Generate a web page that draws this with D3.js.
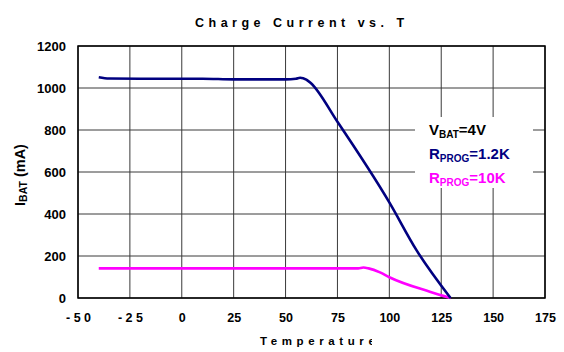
<!DOCTYPE html>
<html>
<head>
<meta charset="utf-8">
<script src="https://cdn.jsdelivr.net/npm/d3@7"></script>
<style>
  body { margin: 0; background: #fff; }
  text { font-family: "Liberation Sans", Arial, sans-serif; font-weight: bold; }
</style>
</head>
<body>
<svg id="chart" width="564" height="352"></svg>
<script>
// Axis ticks
const xTicks = [-50, -25, 0, 25, 50, 75, 100, 125, 150, 175];
const xTickLabels = ["- 5 0", "- 2 5", "0", "25", "50", "75", "100", "125", "150", "175"];
const yTicks = [0, 200, 400, 600, 800, 1000, 1200];

// R_PROG = 1.2K
const tempHigh = [-40, -35, -20, 0, 10, 25, 40, 50, 55, 57, 60, 62, 75, 100, 113, 129.5];
const iHigh    = [1051, 1045, 1044, 1044, 1044, 1041, 1041, 1041, 1044, 1049, 1040, 1025, 839, 455, 229, 0];

// R_PROG = 10K
const tempLow = [-40, 0, 50, 85, 87.5, 90, 95.5, 100, 119.5, 129.5];
const iLow    = [141, 141, 141, 141, 145, 141, 122, 99, 30, 0];

const svg = d3.select("#chart");
const plot = { left: 78, right: 545, top: 46, bottom: 298 };

const x = d3.scaleLinear().domain([-50, 175]).range([plot.left, plot.right]);
const y = d3.scaleLinear().domain([0, 1200]).range([plot.bottom, plot.top]);

// Grid
const grid = svg.append("g");
grid.selectAll("line.v").data(xTicks).join("line")
  .attr("x1", d => x(d)).attr("x2", d => x(d))
  .attr("y1", plot.top).attr("y2", plot.bottom)
  .attr("stroke", "#3a3a3a").attr("stroke-width", 1);
grid.selectAll("line.h").data(yTicks).join("line")
  .attr("x1", plot.left).attr("x2", plot.right)
  .attr("y1", d => y(d)).attr("y2", d => y(d))
  .attr("stroke", "#3a3a3a").attr("stroke-width", 1);

// Legend backing (grid stops behind the labels)
svg.append("rect").attr("x", 415).attr("y", 117).attr("width", 118).attr("height", 71).attr("fill", "#fff");

// Frame
svg.append("rect")
  .attr("x", plot.left).attr("y", plot.top)
  .attr("width", plot.right - plot.left).attr("height", plot.bottom - plot.top)
  .attr("fill", "none").attr("stroke", "#000").attr("stroke-width", 1.5);

// Axes (labels only)
const xAxis = d3.axisBottom(x).tickValues(xTicks)
  .tickFormat((d, i) => xTickLabels[i]).tickSize(0).tickPadding(15);
svg.append("g").attr("transform", `translate(0,${plot.bottom})`).call(xAxis)
  .call(g => g.select(".domain").remove())
  .selectAll("text").attr("font-size", 12.5).attr("font-family", null).attr("fill", "#000");

const yAxis = d3.axisLeft(y).tickValues(yTicks).tickSize(0).tickPadding(12).tickFormat(d3.format("d"));
svg.append("g").attr("transform", `translate(${plot.left},0)`).call(yAxis)
  .call(g => g.select(".domain").remove())
  .selectAll("text").attr("font-size", 13).attr("font-family", null).attr("fill", "#000");

// Curves
const line = d3.line().x(d => x(d[0])).y(d => y(d[1])).curve(d3.curveMonotoneX);
svg.append("path").datum(tempLow.map((t, i) => [t, iLow[i]]))
  .attr("d", line).attr("fill", "none").attr("stroke", "#ff00ff").attr("stroke-width", 2.6);
svg.append("path").datum(tempHigh.map((t, i) => [t, iHigh[i]]))
  .attr("d", line).attr("fill", "none").attr("stroke", "#000080").attr("stroke-width", 2.6);

// Title
svg.append("text").attr("x", 195).attr("y", 27)
  .attr("font-size", 12.5).attr("letter-spacing", 4.5)
  .text("Charge Current vs. T");

// X axis title (clipped at the right)
svg.append("clipPath").attr("id", "xtclip").append("rect")
  .attr("x", 200).attr("y", 320).attr("width", 172).attr("height", 32);
svg.append("text").attr("x", 260).attr("y", 345)
  .attr("font-size", 11.5).attr("letter-spacing", 4.6)
  .attr("clip-path", "url(#xtclip)")
  .text("Temperature");

// Y axis title
const yt = svg.append("text")
  .attr("transform", "translate(25,175) rotate(-90)")
  .attr("text-anchor", "middle").attr("font-size", 14.5);
yt.append("tspan").text("I");
yt.append("tspan").attr("font-size", 10.5).attr("dy", 2).text("BAT");
yt.append("tspan").attr("dy", -2).text(" (mA)");

// Legend
function legendLine(yPos, color, main, sub, rest) {
  const t = svg.append("text").attr("x", 429).attr("y", yPos)
    .attr("font-size", 15).attr("fill", color);
  t.append("tspan").text(main);
  t.append("tspan").attr("font-size", 10).attr("dy", 3).text(sub);
  t.append("tspan").attr("dy", -3).text(rest);
}
legendLine(135, "#000", "V", "BAT", "=4V");
legendLine(159, "#000080", "R", "PROG", "=1.2K");
legendLine(183, "#ff00ff", "R", "PROG", "=10K");
</script>
</body>
</html>
